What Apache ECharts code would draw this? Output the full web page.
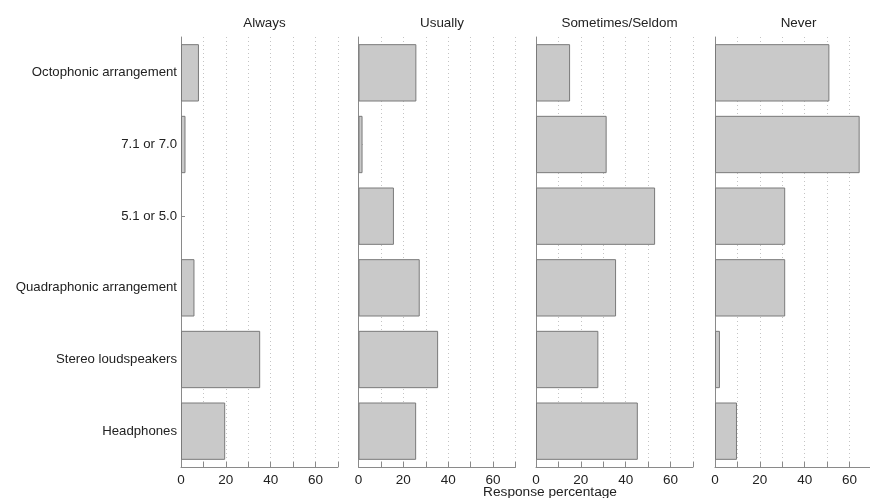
<!DOCTYPE html>
<html>
<head>
<meta charset="utf-8">
<script src="https://cdn.jsdelivr.net/npm/echarts@6/dist/echarts.min.js"></script>
<style>html,body{margin:0;padding:0;background:#fff;}#c{width:870px;height:498px;}</style>
</head>
<body>
<div id="c"></div>
<script>
const categories = ['Octophonic arrangement', '7.1 or 7.0', '5.1 or 5.0', 'Quadraphonic arrangement', 'Stereo loudspeakers', 'Headphones'];
const panelTitles = ['Always', 'Usually', 'Sometimes/Seldom', 'Never'];
const always = [8, 2, 0, 6, 35.3, 19.7];
const usually = [25.8, 1.8, 15.8, 27.3, 35.5, 25.7];
const sometimes = [15.2, 31.5, 53.1, 35.7, 27.8, 45.4];
const never = [51, 64.5, 31.3, 31.3, 2.2, 9.8];
const tickLabels = ['0', '20', '40', '60'];
const xAxisName = 'Response percentage';

const panels = [always, usually, sometimes, never];
const lefts = [181, 358.5, 536, 715];
const W = 157, TOP = 37, H = 430;
const font = '"Liberation Sans", Arial, Helvetica, sans-serif';

const grid = [], xAxis = [], yAxis = [], series = [], title = [];
panels.forEach((vals, i) => {
  grid.push({left: lefts[i], top: TOP, width: W, height: H, containLabel: false, outerBoundsMode: 'none'});
  xAxis.push({
    type: 'value', gridIndex: i, min: 0, max: 70, interval: 10,
    axisLine: {show: true, lineStyle: {color: '#8a8a8a', width: 1}},
    axisTick: {show: true, inside: true, length: 5, lineStyle: {color: '#8a8a8a'}},
    axisLabel: {
      color: '#222', fontSize: 13.5, fontFamily: font, margin: 6,
      formatter: v => tickLabels.indexOf(String(v)) >= 0 ? String(v) : ''
    },
    splitLine: {show: true, lineStyle: {color: '#c4c4c4', type: [1, 3], width: 1}}
  });
  yAxis.push({
    type: 'category', gridIndex: i, data: categories, inverse: true,
    axisLine: {show: true, lineStyle: {color: '#8a8a8a', width: 1}},
    axisTick: {show: true, inside: true, length: 4, alignWithLabel: true, lineStyle: {color: '#8a8a8a'}},
    axisLabel: {show: i === 0, color: '#222', fontSize: 13.2, fontFamily: font, margin: 4},
    splitLine: {show: false}
  });
  series.push({
    type: 'bar', xAxisIndex: i, yAxisIndex: i,
    data: vals.map(v => v === 0 ? {value: v, itemStyle: {borderWidth: 0}} : v),
    barCategoryGap: '20%',
    itemStyle: {color: '#c9c9c9', borderColor: '#7a7a7a', borderWidth: 1},
    silent: true, animation: false
  });
  title.push({
    text: panelTitles[i], left: lefts[i] + W / 2, top: 12, textAlign: 'center',
    textStyle: {fontSize: 13.4, fontWeight: 'normal', color: '#222', fontFamily: font}
  });
});
title.push({
  text: xAxisName, left: 545, top: 480, textAlign: 'center',
  textStyle: {fontSize: 13.7, fontWeight: 'normal', color: '#222', fontFamily: font}
});

const chart = echarts.init(document.getElementById('c'), null, {renderer: 'canvas'});
chart.setOption({animation: false, backgroundColor: '#fff', title, grid, xAxis, yAxis, series});
</script>
</body>
</html>
